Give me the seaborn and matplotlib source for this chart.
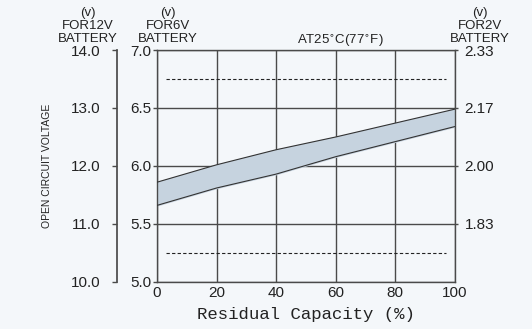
import matplotlib
matplotlib.use('Agg')
import matplotlib.pyplot as plt
import numpy as np
import pandas as pd
import seaborn as sns

# residual capacity (%) and the band of open circuit voltage for a 6V battery
capacity = [0, 20, 40, 60, 80, 100]
upper_6v = [5.86, 6.01, 6.14, 6.25, 6.37, 6.49]
lower_6v = [5.66, 5.81, 5.93, 6.08, 6.21, 6.34]
x_ticks = [0, 20, 40, 60, 80, 100]
ticks_6v = [5.0, 5.5, 6.0, 6.5, 7.0]
ticks_12v = [10.0, 11.0, 12.0, 13.0, 14.0]
ticks_2v = [5.5, 6.0, 6.5, 7.0]
labels_2v = ['1.83', '2.00', '2.17', '2.33']
dashed_levels = [6.75, 5.25]
dashed_span = [3, 97]

df = pd.DataFrame({'capacity': capacity, 'upper': upper_6v, 'lower': lower_6v})

sns.set_theme(style='white')
plt.rcParams['font.family'] = ['Liberation Sans', 'DejaVu Sans']
bg = '#f4f7fa'
dark = '#4a4a4a'

fig = plt.figure(figsize=(5.32, 3.29), dpi=100, facecolor=bg)
ax = fig.add_axes([0.295, 0.143, 0.56, 0.705], facecolor=bg)

ax.fill_between(df['capacity'], df['lower'], df['upper'], color='#c6d3df', zorder=2)
sns.lineplot(data=df, x='capacity', y='upper', ax=ax, color='#333333', lw=0.8, zorder=3)
sns.lineplot(data=df, x='capacity', y='lower', ax=ax, color='#333333', lw=0.8, zorder=3)
for lev in dashed_levels:
    ax.plot(dashed_span, [lev, lev], color='#222222', lw=0.8, ls=(0, (3, 2)), zorder=2)

ax.set_xlim(0, 100)
ax.set_ylim(5.0, 7.0)
ax.set_xticks(x_ticks)
ax.set_yticks(ticks_6v)
ax.set_yticklabels(['%.1f' % v for v in ticks_6v])
ax.grid(True, color=dark, lw=1.0, zorder=1)
for s in ax.spines.values():
    s.set_color(dark)
    s.set_linewidth(1.0)
ax.tick_params(axis='y', length=3, width=1, color=dark, labelsize=11, pad=1, labelcolor='#222222')
ax.tick_params(axis='x', length=0, labelsize=11, pad=3, labelcolor='#222222')
ax.set_xlabel('Residual Capacity (%)', family='Liberation Mono', fontsize=12.5,
              color='#222222', labelpad=5)
ax.set_ylabel('')

# 12V axis on the far left
ax12 = ax.twinx()
ax12.set_ylim(10.0, 14.0)
ax12.set_yticks(ticks_12v)
ax12.set_yticklabels(['%.1f' % v for v in ticks_12v])
ax12.spines['left'].set_position(('outward', 29))
ax12.spines['left'].set_visible(True)
ax12.spines['left'].set_color(dark)
for side in ['right', 'top', 'bottom']:
    ax12.spines[side].set_visible(False)
ax12.yaxis.set_ticks_position('left')
ax12.yaxis.set_label_position('left')
ax12.tick_params(axis='y', length=3.5, width=1, color=dark, labelsize=11, pad=8,
                 labelcolor='#222222')
ax12.set_ylabel('OPEN CIRCUIT VOLTAGE', fontsize=7.5, color='#222222', labelpad=14)

# 2V axis on the right
ax2 = ax.twinx()
ax2.set_ylim(5.0, 7.0)
ax2.set_yticks(ticks_2v)
ax2.set_yticklabels(labels_2v)
for s in ax2.spines.values():
    s.set_visible(False)
ax2.tick_params(axis='y', length=2, width=1, color=dark, labelsize=11, pad=5,
                labelcolor='#222222')

hdr = dict(fontsize=9.5, ha='center', va='bottom', color='#222222', linespacing=1.1)
fig.text(88 / 532, 1 - 45 / 329, '(v)\nFOR12V\nBATTERY', **hdr)
fig.text(168 / 532, 1 - 45 / 329, '(v)\nFOR6V\nBATTERY', **hdr)
fig.text(480 / 532, 1 - 45 / 329, '(v)\nFOR2V\nBATTERY', **hdr)
fig.text(340 / 532, 1 - 49 / 329, 'AT25$^{\\circ}$C(77$^{\\circ}$F)', fontsize=9.5,
         ha='center', va='bottom', color='#222222')

fig.savefig('out.png', dpi=100, facecolor=bg)
